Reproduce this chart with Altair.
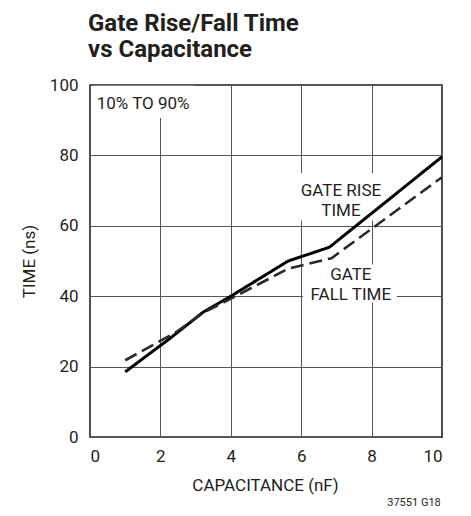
import altair as alt
import pandas as pd

# ---- data ----
cap_rise = [1.0, 2.27, 3.22, 4.0, 5.63, 6.8, 10.0]
rise_ns = [18.5, 28.0, 35.5, 40.0, 50.0, 53.9, 79.6]
cap_fall = [1.0, 2.4, 3.22, 4.0, 5.63, 6.86, 10.0]
fall_ns = [21.8, 29.5, 35.3, 39.3, 47.8, 50.8, 73.8]

x_ticks = [0, 2, 4, 6, 8, 10]
y_ticks = [0, 20, 40, 60, 80, 100]

# annotation labels (data coordinates)
ann_text = ["10% TO 90%", "GATE RISE", "TIME", "GATE", "FALL TIME"]
ann_x = [0.19, 7.13, 7.13, 7.41, 7.41]
ann_y = [93.2, 68.5, 62.8, 44.6, 38.9]
ann_align = ["left", "center", "center", "center", "center"]

# white boxes behind labels (break the grid lines)
box_x1 = [0.1, 5.92, 6.05]
box_x2 = [2.95, 8.36, 8.72]
box_y1 = [90.6, 61.5, 38.2]
box_y2 = [99.8, 75.0, 49.0]

FONT = "Roboto, Liberation Sans, sans-serif"
INK = "#231f20"

lines_df = pd.DataFrame(
    {
        "cap": cap_rise + cap_fall,
        "time": rise_ns + fall_ns,
        "series": ["rise"] * len(cap_rise) + ["fall"] * len(cap_fall),
    }
)
ann_df = pd.DataFrame({"text": ann_text, "x": ann_x, "y": ann_y, "align": ann_align})
box_df = pd.DataFrame({"x1": box_x1, "x2": box_x2, "y1": box_y1, "y2": box_y2})

xscale = alt.Scale(domain=[0, 10], nice=False)
yscale = alt.Scale(domain=[0, 100], nice=False)

xaxis = alt.Axis(
    values=x_ticks,
    title="CAPACITANCE (nF)",
    titleX=175,
    titleY=53,
    titleBaseline="alphabetic",
    labelPadding=11,
)
yaxis = alt.Axis(
    values=y_ticks,
    title="TIME (ns)",
    titleX=-56,
    titleY=176,
    titleAngle=-90,
    titleAlign="center",
    titleBaseline="alphabetic",
    labelPadding=12,
)

boxes = alt.Chart(box_df).mark_rect(color="white").encode(
    x=alt.X("x1:Q", scale=xscale, axis=xaxis),
    x2="x2:Q",
    y=alt.Y("y1:Q", scale=yscale, axis=yaxis),
    y2="y2:Q",
)

lines = alt.Chart(lines_df).mark_line().encode(
    x=alt.X("cap:Q", scale=xscale),
    y=alt.Y("time:Q", scale=yscale),
    color=alt.Color(
        "series:N",
        scale=alt.Scale(domain=["rise", "fall"], range=["#000000", "#2a2a2a"]),
        legend=None,
    ),
    strokeDash=alt.StrokeDash(
        "series:N",
        scale=alt.Scale(domain=["rise", "fall"], range=[[1, 0], [13, 6]]),
        legend=None,
    ),
    strokeWidth=alt.StrokeWidth(
        "series:N",
        scale=alt.Scale(domain=["rise", "fall"], range=[3.0, 2.6]),
        legend=None,
    ),
)

def label_layer(align):
    return (
        alt.Chart(ann_df)
        .transform_filter(alt.datum.align == align)
        .mark_text(font=FONT, fontSize=17, color=INK, baseline="alphabetic", align=align)
        .encode(
            x=alt.X("x:Q", scale=xscale),
            y=alt.Y("y:Q", scale=yscale),
            text="text:N",
        )
    )

labels_left = label_layer("left")
labels_center = label_layer("center")

title = alt.Chart(pd.DataFrame({"t": ["Gate Rise/Fall Time\nvs Capacitance"]})).mark_text(
    font=FONT,
    fontSize=24,
    fontWeight="bold",
    color=INK,
    align="left",
    baseline="alphabetic",
    lineBreak="\n",
    lineHeight=26,
).encode(text="t:N", x=alt.value(-2), y=alt.value(-54))

foot = alt.Chart(pd.DataFrame({"t": ["37551 G18"]})).mark_text(
    font=FONT, fontSize=11, color=INK, align="center", baseline="alphabetic"
).encode(text="t:N", x=alt.value(324), y=alt.value(421))

chart = (
    alt.layer(boxes, lines, labels_left, labels_center, title, foot)
    .properties(
        width=352,
        height=352,
        autosize=alt.AutoSizeParams(type="none"),
        padding={"left": 82, "top": 77, "right": 21, "bottom": 71},
    )
    .configure_view(stroke=INK, strokeWidth=1.6)
    .configure_axis(
        labelFont=FONT,
        labelFontSize=17,
        labelColor=INK,
        titleFont=FONT,
        titleFontSize=17,
        titleFontWeight="normal",
        titleColor=INK,
        grid=True,
        gridColor="#555555",
        gridWidth=1,
        domain=False,
        ticks=False,
    )
)

chart.save("out.html", embed_options={"renderer": "svg", "actions": False})
